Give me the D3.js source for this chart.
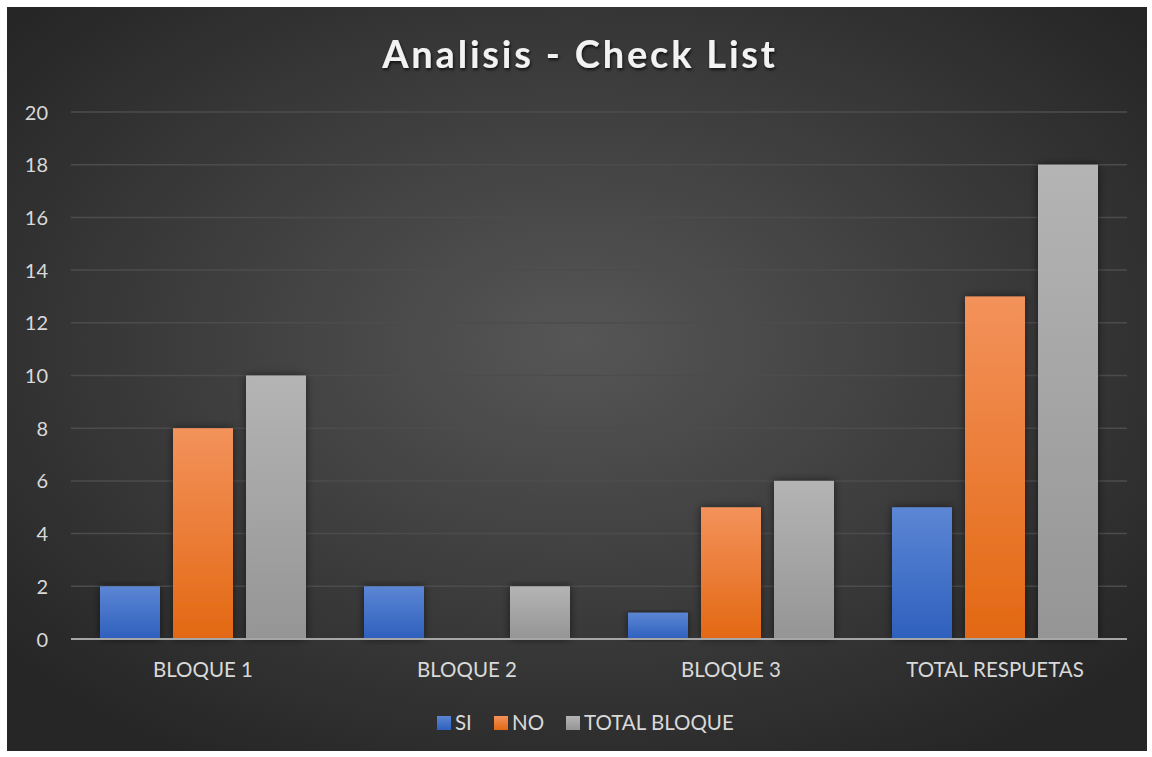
<!DOCTYPE html>
<html><head><meta charset="utf-8">
<script src="https://cdn.jsdelivr.net/npm/d3@7"></script>
<style>html,body{margin:0;padding:0;background:#fff;}svg{display:block;}</style>
</head><body>
<script>
const categories = ["BLOQUE 1", "BLOQUE 2", "BLOQUE 3", "TOTAL RESPUETAS"];
const seriesNames = ["SI", "NO", "TOTAL BLOQUE"];
const siValues = [2, 2, 1, 5];
const noValues = [8, 0, 5, 13];
const totalValues = [10, 2, 6, 18];
const yTicks = [0, 2, 4, 6, 8, 10, 12, 14, 16, 18, 20];
const title = "Analisis - Check List";

(function () {
const W = 1152, H = 757;
const FONT = "Lato, 'Open Sans', sans-serif";
const svg = d3.select("body").append("svg").attr("width", W).attr("height", H);
const defs = svg.append("defs");

const bg = defs.append("radialGradient").attr("id", "bg").attr("cx", "50%").attr("cy", "45%").attr("r", "65%");
bg.append("stop").attr("offset", "0%").attr("stop-color", "#565656");
bg.append("stop").attr("offset", "100%").attr("stop-color", "#262626");

const grads = [["gSI", "#5c86d4", "#2e60bd"], ["gNO", "#f3925b", "#e36813"], ["gTOT", "#b4b4b4", "#959595"]];
grads.forEach(([id, a, b]) => {
  const g = defs.append("linearGradient").attr("id", id).attr("x1", 0).attr("y1", 0).attr("x2", 0).attr("y2", 1);
  g.append("stop").attr("offset", "0%").attr("stop-color", a);
  g.append("stop").attr("offset", "100%").attr("stop-color", b);
});
const sh = defs.append("filter").attr("id", "sh").attr("x", "-30%").attr("y", "-10%").attr("width", "160%").attr("height", "120%");
sh.append("feDropShadow").attr("dx", 0).attr("dy", 0).attr("stdDeviation", 4).attr("flood-color", "#000").attr("flood-opacity", 0.55);
const tsh = defs.append("filter").attr("id", "tsh").attr("x", "-10%").attr("y", "-30%").attr("width", "120%").attr("height", "160%");
tsh.append("feDropShadow").attr("dx", 1).attr("dy", 2).attr("stdDeviation", 1.5).attr("flood-color", "#000").attr("flood-opacity", 0.7);

svg.append("rect").attr("x", 7).attr("y", 7).attr("width", 1140).attr("height", 744).attr("fill", "url(#bg)");

const pLeft = 71, pRight = 1127, pTop = 112, pBottom = 639;
const y = d3.scaleLinear().domain([0, 20]).range([pBottom, pTop]);
const x0 = d3.scaleBand().domain(categories).range([pLeft, pRight]).paddingInner(0).paddingOuter(0);
const groupPad = 29;
const x1 = d3.scaleBand().domain(seriesNames).range([groupPad, x0.bandwidth() - groupPad]).paddingInner(13 / 73).paddingOuter(0);

svg.append("g").selectAll("line").data(yTicks.filter(d => d > 0)).join("line")
  .attr("x1", pLeft).attr("x2", pRight).attr("y1", d => y(d)).attr("y2", d => y(d))
  .attr("stroke", "#4c4c4c").attr("stroke-width", 1.5);

const yAxis = d3.axisLeft(y).tickValues(yTicks).tickSize(0).tickPadding(0);
const ya = svg.append("g").attr("transform", `translate(48,0)`).call(yAxis);
ya.select(".domain").remove();
ya.selectAll("text").attr("fill", "#d9d9d9").attr("font-size", 20).attr("font-family", FONT).attr("dy", "0.35em");

const series = [
  { name: "SI", values: siValues, fill: "url(#gSI)" },
  { name: "NO", values: noValues, fill: "url(#gNO)" },
  { name: "TOTAL BLOQUE", values: totalValues, fill: "url(#gTOT)" }
];

const barsG = svg.append("g");
series.forEach(s => {
  barsG.append("g").selectAll("rect").data(categories.map((c, i) => ({ c, v: s.values[i] })).filter(d => d.v > 0)).join("rect")
    .attr("x", d => x0(d.c) + x1(s.name)).attr("width", x1.bandwidth())
    .attr("y", d => y(d.v)).attr("height", d => y(0) - y(d.v))
    .attr("fill", s.fill).attr("filter", "url(#sh)");
});

svg.append("line").attr("x1", pLeft).attr("x2", pRight).attr("y1", y(0)).attr("y2", y(0))
  .attr("stroke", "#a6a6a6").attr("stroke-width", 2);

const xAxis = d3.axisBottom(x0).tickSize(0).tickPadding(0);
const xa = svg.append("g").attr("transform", `translate(0,${pBottom + 23})`).call(xAxis);
xa.select(".domain").remove();
xa.selectAll("text").attr("fill", "#d9d9d9").attr("font-size", 20.5).attr("font-family", FONT).attr("dy", "0.71em");

svg.append("text").attr("x", 580).attr("y", 68).attr("text-anchor", "middle")
  .attr("fill", "#f2f2f2").attr("font-size", 38).attr("font-weight", "bold")
  .attr("letter-spacing", 2.8).attr("font-family", FONT)
  .attr("filter", "url(#tsh)").text(title);

const legendX = [437, 494, 566];
const lg = svg.append("g");
series.forEach((s, i) => {
  lg.append("rect").attr("x", legendX[i]).attr("y", 716).attr("width", 14).attr("height", 14).attr("fill", s.fill);
  lg.append("text").attr("x", legendX[i] + 18).attr("y", 723).attr("dy", "0.35em")
    .attr("fill", "#d9d9d9").attr("font-size", 20.5).attr("font-family", FONT).text(s.name);
});
})();
</script>
</body></html>
